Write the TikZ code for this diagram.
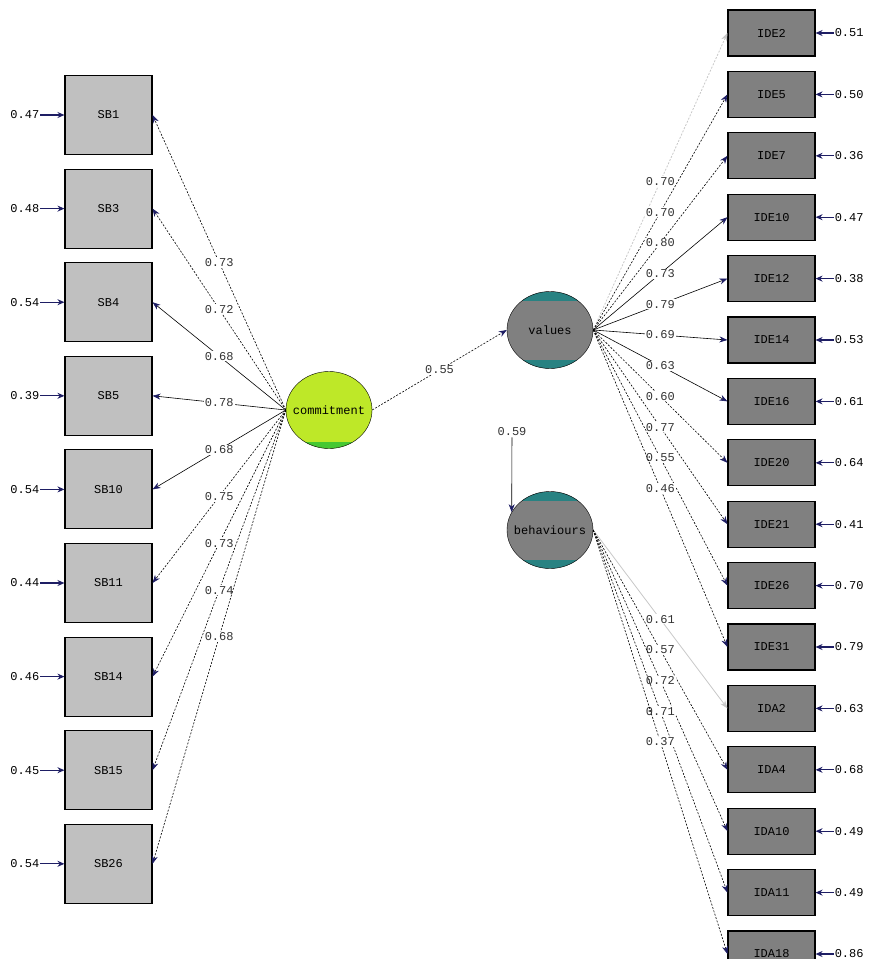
\documentclass[tikz,border=0pt]{standalone}
\usepackage{fontspec}
\newfontfamily\lisfont{Liberation Mono}
\usetikzlibrary{arrows.meta,positioning,shapes.geometric}
\definecolor{tipblue}{RGB}{30,30,100}
\definecolor{boxlight}{RGB}{192,192,192}
\definecolor{boxdark}{RGB}{128,128,128}
\definecolor{limefill}{RGB}{190,232,40}
\definecolor{limedark}{RGB}{70,200,50}
\definecolor{tealcap}{RGB}{40,130,130}
\definecolor{fixgray}{RGB}{200,200,200}

\begin{document}
\begin{tikzpicture}[x=1pt,y=-1pt,
  font=\lisfont\fontsize{12}{13}\selectfont,
  obsl/.style={draw, line width=1.1pt, fill=boxlight, minimum width=87pt, minimum height=79pt, inner sep=0pt},
  obsr/.style={draw, line width=1.1pt, fill=boxdark, minimum width=87pt, minimum height=46pt, inner sep=0pt},
  latent/.style={ellipse, draw, minimum width=86pt, minimum height=77pt, inner sep=0pt},
  greyvar/.style={latent, fill=boxdark, path picture={
      \fill [tealcap] (path picture bounding box.north west) rectangle ([yshift=-9pt]path picture bounding box.north east);
      \fill [tealcap] (path picture bounding box.south west) rectangle ([yshift=9pt]path picture bounding box.south east);}},
  limevar/.style={latent, fill=limefill, path picture={
      \fill [limedark] (path picture bounding box.south west) rectangle ([yshift=7pt]path picture bounding box.south east);}},
  ldg/.style={-{Stealth[color=tipblue,length=8pt,width=6pt]}, line width=0.6pt},
  ldgd/.style={ldg, dash pattern=on 2pt off 1.5pt},
  fixd/.style={-{Stealth[color=fixgray,length=8pt,width=6pt]}, line width=0.8pt, fixgray},
  err/.style={-{Stealth[color=tipblue,length=7pt,width=6pt]}, line width=1.2pt, tipblue},
  lbl/.style={fill=white, inner sep=1pt, text=black!80}]
\useasboundingbox (0,0) rectangle (874,959);

% latent variables
\node [limevar] (com) at (329,410) {\makebox[0pt]{commitment}};
\node [greyvar] (val) at (550,330) {\makebox[0pt]{values}};
\node [greyvar] (beh) at (550,530) {\makebox[0pt]{behaviours}};

% left indicators
\node [obsl] (sb1) at (108.5,115) {SB1};
\node [obsl] (sb3) [below=13.5pt of sb1] {SB3};
\node [obsl] (sb4) [below=13.5pt of sb3] {SB4};
\node [obsl] (sb5) [below=13.5pt of sb4] {SB5};
\node [obsl] (sb10) [below=13.5pt of sb5] {SB10};
\node [obsl] (sb11) [below=13.5pt of sb10] {SB11};
\node [obsl] (sb14) [below=13.5pt of sb11] {SB14};
\node [obsl] (sb15) [below=13.5pt of sb14] {SB15};
\node [obsl] (sb26) [below=13.5pt of sb15] {SB26};

% right indicators
\node [obsr] (ide2) at (771.5,33) {IDE2};
\node [obsr] (ide5) [below=14.3pt of ide2] {IDE5};
\node [obsr] (ide7) [below=14.3pt of ide5] {IDE7};
\node [obsr] (ide10) [below=14.3pt of ide7] {IDE10};
\node [obsr] (ide12) [below=14.3pt of ide10] {IDE12};
\node [obsr] (ide14) [below=14.3pt of ide12] {IDE14};
\node [obsr] (ide16) [below=14.3pt of ide14] {IDE16};
\node [obsr] (ide20) [below=14.3pt of ide16] {IDE20};
\node [obsr] (ide21) [below=14.3pt of ide20] {IDE21};
\node [obsr] (ide26) [below=14.3pt of ide21] {IDE26};
\node [obsr] (ide31) [below=14.3pt of ide26] {IDE31};
\node [obsr] (ida2) [below=14.3pt of ide31] {IDA2};
\node [obsr] (ida4) [below=14.3pt of ida2] {IDA4};
\node [obsr] (ida10) [below=14.3pt of ida4] {IDA10};
\node [obsr] (ida11) [below=14.3pt of ida10] {IDA11};
\node [obsr] (ida18) [below=14.3pt of ida11] {IDA18};

% error variances, left
\node (esb1) [left=24pt of sb1, inner sep=1pt] {0.47};
\node (esb3) [left=24pt of sb3, inner sep=1pt] {0.48};
\node (esb4) [left=24pt of sb4, inner sep=1pt] {0.54};
\node (esb5) [left=24pt of sb5, inner sep=1pt] {0.39};
\node (esb10) [left=24pt of sb10, inner sep=1pt] {0.54};
\node (esb11) [left=24pt of sb11, inner sep=1pt] {0.44};
\node (esb14) [left=24pt of sb14, inner sep=1pt] {0.46};
\node (esb15) [left=24pt of sb15, inner sep=1pt] {0.45};
\node (esb26) [left=24pt of sb26, inner sep=1pt] {0.54};

% error variances, right
\node (eide2) [right=18pt of ide2, inner sep=1pt] {0.51};
\node (eide5) [right=18pt of ide5, inner sep=1pt] {0.50};
\node (eide7) [right=18pt of ide7, inner sep=1pt] {0.36};
\node (eide10) [right=18pt of ide10, inner sep=1pt] {0.47};
\node (eide12) [right=18pt of ide12, inner sep=1pt] {0.38};
\node (eide14) [right=18pt of ide14, inner sep=1pt] {0.53};
\node (eide16) [right=18pt of ide16, inner sep=1pt] {0.61};
\node (eide20) [right=18pt of ide20, inner sep=1pt] {0.64};
\node (eide21) [right=18pt of ide21, inner sep=1pt] {0.41};
\node (eide26) [right=18pt of ide26, inner sep=1pt] {0.70};
\node (eide31) [right=18pt of ide31, inner sep=1pt] {0.79};
\node (eida2) [right=18pt of ida2, inner sep=1pt] {0.63};
\node (eida4) [right=18pt of ida4, inner sep=1pt] {0.68};
\node (eida10) [right=18pt of ida10, inner sep=1pt] {0.49};
\node (eida11) [right=18pt of ida11, inner sep=1pt] {0.49};
\node (eida18) [right=18pt of ida18, inner sep=1pt] {0.86};

\draw [err] (esb1) -- (sb1);
\draw [err] (esb3) -- (sb3);
\draw [err] (esb4) -- (sb4);
\draw [err] (esb5) -- (sb5);
\draw [err] (esb10) -- (sb10);
\draw [err] (esb11) -- (sb11);
\draw [err] (esb14) -- (sb14);
\draw [err] (esb15) -- (sb15);
\draw [err] (esb26) -- (sb26);

\draw [err] (eide2) -- (ide2);
\draw [err] (eide5) -- (ide5);
\draw [err] (eide7) -- (ide7);
\draw [err] (eide10) -- (ide10);
\draw [err] (eide12) -- (ide12);
\draw [err] (eide14) -- (ide14);
\draw [err] (eide16) -- (ide16);
\draw [err] (eide20) -- (ide20);
\draw [err] (eide21) -- (ide21);
\draw [err] (eide26) -- (ide26);
\draw [err] (eide31) -- (ide31);
\draw [err] (eida2) -- (ida2);
\draw [err] (eida4) -- (ida4);
\draw [err] (eida10) -- (ida10);
\draw [err] (eida11) -- (ida11);
\draw [err] (eida18) -- (ida18);

% loadings of commitment
\draw [ldgd] (com.west) to node [lbl] {0.73} (sb1.east);
\draw [ldgd] (com.west) to node [lbl] {0.72} (sb3.east);
\draw [ldg] (com.west) to node [lbl] {0.68} (sb4.east);
\draw [ldg] (com.west) to node [lbl] {0.78} (sb5.east);
\draw [ldg] (com.west) to node [lbl] {0.68} (sb10.east);
\draw [ldgd] (com.west) to node [lbl] {0.75} (sb11.east);
\draw [ldgd] (com.west) to node [lbl] {0.73} (sb14.east);
\draw [ldgd] (com.west) to node [lbl] {0.74} (sb15.east);
\draw [ldgd] (com.west) to node [lbl] {0.68} (sb26.east);

% loadings of values
\draw [fixd, dash pattern=on 2pt off 1.5pt] (val.east) to node [lbl] {0.70} (ide2.west);
\draw [ldgd] (val.east) to node [lbl] {0.70} (ide5.west);
\draw [ldgd] (val.east) to node [lbl] {0.80} (ide7.west);
\draw [ldg] (val.east) to node [lbl] {0.73} (ide10.west);
\draw [ldg] (val.east) to node [lbl] {0.79} (ide12.west);
\draw [ldg] (val.east) to node [lbl] {0.69} (ide14.west);
\draw [ldg] (val.east) to node [lbl] {0.63} (ide16.west);
\draw [ldgd] (val.east) to node [lbl] {0.60} (ide20.west);
\draw [ldgd] (val.east) to node [lbl] {0.77} (ide21.west);
\draw [ldgd] (val.east) to node [lbl] {0.55} (ide26.west);
\draw [ldgd] (val.east) to node [lbl] {0.46} (ide31.west);

% loadings of behaviours
\draw [fixd] (beh.east) to node [lbl] {0.61} (ida2.west);
\draw [ldgd] (beh.east) to node [lbl] {0.57} (ida4.west);
\draw [ldgd] (beh.east) to node [lbl] {0.72} (ida10.west);
\draw [ldgd] (beh.east) to node [lbl] {0.71} (ida11.west);
\draw [ldgd] (beh.east) to node [lbl] {0.37} (ida18.west);

% structural paths
\draw [ldgd] (com.east) to node [lbl] {0.55} (val.west);
\node [lbl] (b59) at (512,432) {0.59};
\draw [ldg] (b59) -- (beh.155);
\end{tikzpicture}
\end{document}
